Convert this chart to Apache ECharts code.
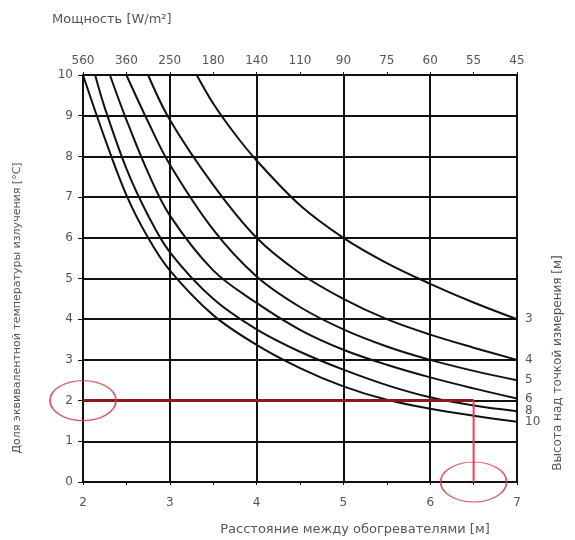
<!DOCTYPE html>
<html>
<head>
<meta charset="utf-8">
<script src="https://cdn.jsdelivr.net/npm/echarts@6/dist/echarts.min.js"></script>
<style>
  html, body { margin: 0; padding: 0; background: #fff; }
  #chart { width: 575px; height: 540px; }
</style>
</head>
<body>
<div id="chart"></div>
<script>
// мощность на верхней оси (W/m2), по шагу 0.5 м от 2 до 7
var topLabels = ['560', '360', '250', '180', '140', '110', '90', '75', '60', '55', '45'];

// кривые по высоте над точкой измерения [м]: [расстояние, доля]
var h3 = [[3.31, 10], [3.5, 9.3], [3.75, 8.55], [4, 7.9], [4.5, 6.8], [5, 6.0], [5.5, 5.38], [6, 4.87], [6.5, 4.41], [7, 4.0]];
var h4 = [[2.75, 10], [3, 8.9], [3.5, 7.3], [4, 6.0], [4.5, 5.13], [5, 4.5], [5.5, 4.0], [6, 3.62], [6.5, 3.3], [7, 3.0]];
var h5 = [[2.5, 10], [2.75, 8.85], [3, 7.8], [3.5, 6.2], [4, 5.05], [4.5, 4.3], [5, 3.75], [5.5, 3.33], [6, 3.0], [6.5, 2.73], [7, 2.5]];
var h6 = [[2.31, 10], [2.5, 8.9], [2.75, 7.6], [3, 6.55], [3.5, 5.2], [4, 4.4], [4.5, 3.74], [5, 3.25], [5.5, 2.88], [6, 2.57], [6.5, 2.3], [7, 2.05]];
var h8 = [[2.14, 10], [2.25, 9.2], [2.5, 7.7], [2.75, 6.55], [3, 5.65], [3.5, 4.5], [4, 3.75], [4.5, 3.2], [5, 2.76], [5.5, 2.38], [6, 2.08], [6.5, 1.88], [7, 1.74]];
var h10 = [[2, 10], [2.25, 8.45], [2.5, 7.05], [2.75, 6.0], [3, 5.2], [3.5, 4.1], [4, 3.37], [4.5, 2.8], [5, 2.35], [5.5, 2.02], [6, 1.8], [6.5, 1.63], [7, 1.48]];

// красная разметка примера
var markH = [[2, 2], [6.5, 2]];
var markV = [[6.5, 2], [6.5, 0]];
var rings = [[2, 2], [6.5, 0]];

var curves = [['3', h3], ['4', h4], ['5', h5], ['6', h6], ['8', h8], ['10', h10]];

var chart = echarts.init(document.getElementById('chart'));
var font = 'DejaVu Sans';
var grey = '#555';

var series = curves.map(function (c) {
    return {
        name: c[0],
        type: 'line',
        data: c[1],
        smooth: 0.35,
        showSymbol: false,
        lineStyle: { color: '#111', width: 2 },
        endLabel: {
            show: true,
            formatter: '{a}',
            color: grey,
            fontFamily: font,
            fontSize: 12,
            distance: 8
        },
        z: 3
    };
});

series.push({
    type: 'line',
    data: markH,
    showSymbol: false,
    lineStyle: { color: '#8a1a1a', width: 3 },
    z: 4
});
series.push({
    type: 'line',
    data: markV,
    showSymbol: false,
    lineStyle: { color: '#e8405a', width: 2 },
    z: 4
});
series.push({
    type: 'scatter',
    data: rings,
    symbol: 'circle',
    symbolSize: [66, 40],
    clip: false,
    itemStyle: { color: 'rgba(0,0,0,0)', borderColor: '#d23a48', borderWidth: 1.5 },
    z: 5
});

var option = {
    animation: false,
    grid: { left: 83, right: 58, top: 75, bottom: 58 },
    xAxis: [
        {
            type: 'value',
            min: 2,
            max: 7,
            interval: 1,
            axisLine: { lineStyle: { color: '#111', width: 2 } },
            axisTick: { show: true, length: 3, lineStyle: { color: '#111' } },
            minorTick: { show: true, splitNumber: 2, length: 3, lineStyle: { color: '#111' } },
            axisLabel: { color: grey, fontFamily: font, fontSize: 12, margin: 15 },
            splitLine: { show: true, lineStyle: { color: '#111', width: 2 } }
        },
        {
            type: 'value',
            position: 'top',
            min: 2,
            max: 7,
            interval: 0.5,
            axisLine: { lineStyle: { color: '#111', width: 2 } },
            axisTick: { show: true, length: 3, lineStyle: { color: '#111' } },
            axisLabel: {
                color: grey, fontFamily: font, fontSize: 12, margin: 8,
                formatter: function (v) { return topLabels[Math.round((v - 2) * 2)]; }
            },
            splitLine: { show: false }
        }
    ],
    yAxis: {
        type: 'value',
        min: 0,
        max: 10,
        interval: 1,
        axisLine: { lineStyle: { color: '#111', width: 2 } },
        axisTick: { show: true, length: 5, lineStyle: { color: '#111' } },
        axisLabel: { color: grey, fontFamily: font, fontSize: 12, margin: 10 },
        splitLine: { show: true, lineStyle: { color: '#111', width: 2 } }
    },
    graphic: [
        {
            type: 'text',
            left: 52,
            top: 13,
            style: { text: 'Мощность [W/m²]', fill: grey, font: '13px "DejaVu Sans"' }
        },
        {
            type: 'text',
            x: 355,
            y: 530,
            style: {
                text: 'Расстояние между обогревателями [м]',
                fill: grey, font: '13px "DejaVu Sans"',
                align: 'center', verticalAlign: 'middle'
            }
        },
        {
            type: 'text',
            x: 17,
            y: 308,
            rotation: Math.PI / 2,
            style: {
                text: 'Доля эквивалентной температуры излучения [°C]',
                fill: grey, font: '11px "DejaVu Sans"',
                align: 'center', verticalAlign: 'middle'
            }
        },
        {
            type: 'text',
            x: 558,
            y: 363,
            rotation: Math.PI / 2,
            style: {
                text: 'Высота над точкой измерения [м]',
                fill: grey, font: '12px "DejaVu Sans"',
                align: 'center', verticalAlign: 'middle'
            }
        }
    ],
    series: series
};

chart.setOption(option);
</script>
</body>
</html>
